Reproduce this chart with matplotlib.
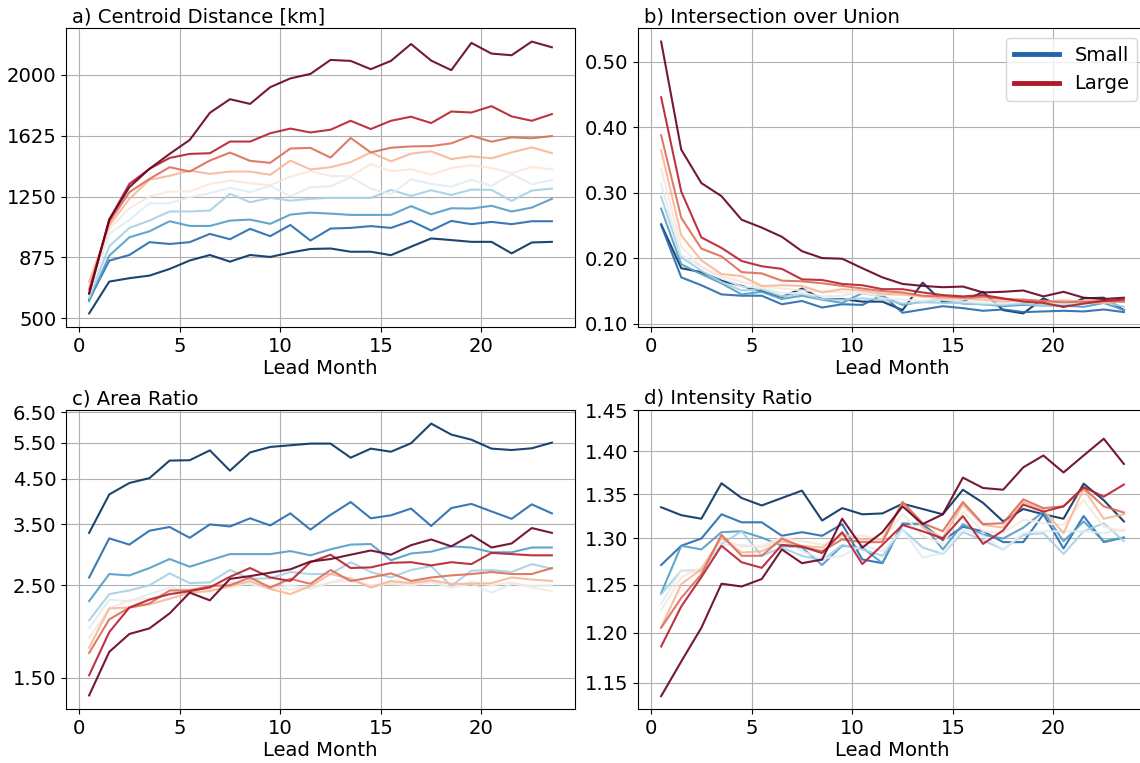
import numpy as np
import matplotlib
matplotlib.use("Agg")
import matplotlib.pyplot as plt
from matplotlib.lines import Line2D
from matplotlib.ticker import FixedLocator, FormatStrFormatter, NullLocator

plt.rcParams['font.family'] = ['DejaVu Sans']
FS = 14.1

lead_month = np.arange(24) + 0.5

# ten size classes, smallest (blue) to largest (red)
centroid_distance = [
    [530, 726, 747, 763, 804, 856, 890, 849, 890, 878, 905, 927, 930, 910, 910, 889, 941, 992, 982, 971, 971, 900, 967, 971],
    [615, 855, 890, 969, 958, 969, 1020, 987, 1051, 1006, 1075, 979, 1053, 1057, 1068, 1057, 1100, 1041, 1100, 1080, 1094, 1080, 1098, 1098],
    [605, 886, 999, 1036, 1098, 1069, 1069, 1102, 1108, 1082, 1139, 1151, 1145, 1137, 1137, 1137, 1191, 1141, 1178, 1176, 1193, 1158, 1182, 1236],
    [625, 944, 1057, 1102, 1158, 1158, 1164, 1267, 1215, 1242, 1225, 1236, 1242, 1242, 1242, 1291, 1254, 1289, 1260, 1293, 1291, 1223, 1287, 1299],
    [640, 1020, 1106, 1209, 1209, 1246, 1271, 1304, 1277, 1316, 1252, 1308, 1313, 1369, 1299, 1264, 1356, 1328, 1311, 1354, 1315, 1389, 1326, 1352],
    [660, 1051, 1178, 1250, 1281, 1281, 1328, 1349, 1332, 1320, 1373, 1406, 1377, 1375, 1451, 1406, 1418, 1385, 1426, 1443, 1426, 1395, 1432, 1418],
    [725, 1071, 1236, 1353, 1378, 1410, 1390, 1404, 1404, 1384, 1472, 1417, 1431, 1462, 1522, 1467, 1514, 1529, 1481, 1498, 1486, 1522, 1553, 1518],
    [680, 1092, 1277, 1359, 1431, 1404, 1472, 1521, 1470, 1458, 1546, 1550, 1490, 1611, 1522, 1551, 1559, 1561, 1578, 1625, 1588, 1615, 1609, 1623],
    [650, 1108, 1328, 1421, 1488, 1513, 1517, 1589, 1589, 1640, 1669, 1645, 1662, 1717, 1666, 1717, 1742, 1703, 1774, 1768, 1807, 1744, 1717, 1758],
    [655, 1108, 1308, 1421, 1513, 1599, 1766, 1850, 1821, 1924, 1978, 2006, 2092, 2086, 2035, 2086, 2190, 2088, 2029, 2197, 2131, 2121, 2205, 2170],
]

intersection_over_union = [
    [0.252, 0.185, 0.179, 0.166, 0.158, 0.150, 0.141, 0.154, 0.138, 0.138, 0.134, 0.134, 0.121, 0.163, 0.133, 0.134, 0.149, 0.121, 0.116, 0.139, 0.126, 0.139, 0.140, 0.121],
    [0.251, 0.171, 0.159, 0.145, 0.143, 0.143, 0.130, 0.135, 0.125, 0.130, 0.129, 0.144, 0.117, 0.122, 0.127, 0.124, 0.120, 0.122, 0.118, 0.119, 0.120, 0.119, 0.122, 0.118],
    [0.276, 0.191, 0.176, 0.162, 0.145, 0.149, 0.138, 0.143, 0.137, 0.132, 0.147, 0.142, 0.129, 0.134, 0.137, 0.131, 0.130, 0.127, 0.129, 0.128, 0.128, 0.126, 0.132, 0.121],
    [0.294, 0.202, 0.181, 0.164, 0.151, 0.153, 0.142, 0.146, 0.138, 0.137, 0.139, 0.137, 0.131, 0.133, 0.132, 0.132, 0.130, 0.129, 0.131, 0.128, 0.130, 0.131, 0.134, 0.126],
    [0.314, 0.205, 0.187, 0.170, 0.157, 0.155, 0.147, 0.147, 0.142, 0.143, 0.149, 0.139, 0.137, 0.135, 0.137, 0.134, 0.132, 0.131, 0.134, 0.132, 0.131, 0.134, 0.138, 0.134],
    [0.337, 0.218, 0.187, 0.173, 0.164, 0.157, 0.154, 0.151, 0.150, 0.148, 0.147, 0.144, 0.144, 0.141, 0.139, 0.138, 0.136, 0.136, 0.135, 0.134, 0.134, 0.135, 0.137, 0.136],
    [0.365, 0.235, 0.197, 0.176, 0.173, 0.158, 0.159, 0.158, 0.148, 0.153, 0.151, 0.146, 0.145, 0.142, 0.139, 0.139, 0.137, 0.134, 0.137, 0.134, 0.136, 0.134, 0.132, 0.134],
    [0.388, 0.262, 0.215, 0.203, 0.179, 0.177, 0.166, 0.165, 0.162, 0.158, 0.154, 0.150, 0.148, 0.143, 0.142, 0.140, 0.141, 0.138, 0.137, 0.135, 0.133, 0.134, 0.135, 0.134],
    [0.446, 0.302, 0.232, 0.216, 0.196, 0.188, 0.184, 0.168, 0.167, 0.161, 0.159, 0.153, 0.153, 0.148, 0.144, 0.142, 0.144, 0.139, 0.134, 0.132, 0.126, 0.131, 0.135, 0.137],
    [0.531, 0.366, 0.315, 0.295, 0.259, 0.247, 0.233, 0.211, 0.2005, 0.1995, 0.185, 0.171, 0.161, 0.158, 0.156, 0.157, 0.148, 0.149, 0.151, 0.142, 0.149, 0.140, 0.138, 0.140],
]

area_ratio = [
    [3.34, 4.13, 4.40, 4.52, 4.98, 4.99, 5.27, 4.71, 5.21, 5.37, 5.42, 5.47, 5.47, 5.06, 5.32, 5.23, 5.48, 6.11, 5.75, 5.59, 5.32, 5.28, 5.33, 5.50],
    [2.61, 3.24, 3.13, 3.38, 3.45, 3.25, 3.50, 3.46, 3.62, 3.48, 3.72, 3.40, 3.69, 3.96, 3.62, 3.68, 3.82, 3.47, 3.83, 3.92, 3.76, 3.61, 3.91, 3.72],
    [2.29, 2.66, 2.64, 2.75, 2.89, 2.77, 2.87, 2.97, 2.97, 2.97, 3.02, 2.95, 3.05, 3.13, 3.14, 2.87, 2.98, 3.01, 3.10, 3.08, 3.00, 3.00, 3.08, 3.08],
    [2.06, 2.38, 2.43, 2.50, 2.67, 2.53, 2.54, 2.72, 2.59, 2.60, 2.69, 2.66, 2.66, 2.84, 2.69, 2.61, 2.72, 2.78, 2.49, 2.71, 2.72, 2.69, 2.81, 2.74],
    [1.97, 2.31, 2.29, 2.38, 2.47, 2.43, 2.47, 2.54, 2.52, 2.45, 2.50, 2.45, 2.54, 2.61, 2.47, 2.54, 2.50, 2.54, 2.47, 2.52, 2.40, 2.52, 2.49, 2.50],
    [1.87, 2.20, 2.30, 2.32, 2.41, 2.45, 2.44, 2.47, 2.54, 2.49, 2.44, 2.47, 2.54, 2.56, 2.50, 2.52, 2.50, 2.56, 2.47, 2.55, 2.50, 2.54, 2.47, 2.42],
    [1.77, 2.20, 2.21, 2.25, 2.32, 2.40, 2.42, 2.49, 2.56, 2.45, 2.38, 2.49, 2.66, 2.59, 2.47, 2.56, 2.53, 2.57, 2.52, 2.52, 2.53, 2.61, 2.58, 2.56],
    [1.72, 2.07, 2.21, 2.26, 2.43, 2.43, 2.49, 2.50, 2.61, 2.47, 2.59, 2.52, 2.72, 2.56, 2.61, 2.67, 2.56, 2.61, 2.64, 2.66, 2.69, 2.66, 2.66, 2.75],
    [1.52, 1.93, 2.21, 2.31, 2.38, 2.42, 2.47, 2.62, 2.75, 2.61, 2.56, 2.84, 2.96, 2.75, 2.76, 2.83, 2.84, 2.79, 2.84, 2.81, 2.99, 2.97, 2.95, 2.95],
    [1.36, 1.73, 1.91, 1.97, 2.14, 2.40, 2.30, 2.59, 2.63, 2.68, 2.73, 2.85, 2.89, 2.96, 3.03, 2.96, 3.12, 3.22, 3.10, 3.30, 3.08, 3.15, 3.43, 3.34],
]

intensity_ratio = [
    [1.335, 1.326, 1.322, 1.3625, 1.3455, 1.337, 1.3455, 1.354, 1.320, 1.334, 1.327, 1.328, 1.339, 1.333, 1.327, 1.355, 1.340, 1.319, 1.333, 1.327, 1.322, 1.362, 1.343, 1.319],
    [1.271, 1.292, 1.300, 1.327, 1.318, 1.318, 1.303, 1.307, 1.303, 1.316, 1.277, 1.273, 1.316, 1.316, 1.298, 1.313, 1.308, 1.296, 1.296, 1.327, 1.289, 1.325, 1.296, 1.301],
    [1.241, 1.292, 1.288, 1.307, 1.308, 1.301, 1.292, 1.290, 1.271, 1.292, 1.290, 1.273, 1.317, 1.316, 1.288, 1.316, 1.304, 1.300, 1.312, 1.330, 1.297, 1.319, 1.297, 1.301],
    [1.240, 1.265, 1.265, 1.294, 1.308, 1.281, 1.290, 1.281, 1.276, 1.293, 1.288, 1.281, 1.310, 1.290, 1.283, 1.307, 1.298, 1.288, 1.304, 1.306, 1.283, 1.308, 1.317, 1.297],
    [1.230, 1.265, 1.263, 1.293, 1.293, 1.290, 1.299, 1.286, 1.278, 1.281, 1.293, 1.286, 1.310, 1.279, 1.284, 1.310, 1.303, 1.288, 1.306, 1.308, 1.308, 1.308, 1.306, 1.310],
    [1.223, 1.258, 1.268, 1.299, 1.291, 1.292, 1.301, 1.297, 1.293, 1.303, 1.303, 1.299, 1.327, 1.303, 1.294, 1.330, 1.308, 1.306, 1.321, 1.317, 1.315, 1.343, 1.313, 1.308],
    [1.2055, 1.2505, 1.2665, 1.301, 1.2845, 1.286, 1.297, 1.292, 1.290, 1.3045, 1.299, 1.299, 1.341, 1.312, 1.301, 1.338, 1.315, 1.312, 1.341, 1.332, 1.306, 1.356, 1.322, 1.327],
    [1.205, 1.236, 1.261, 1.304, 1.281, 1.281, 1.300, 1.291, 1.286, 1.299, 1.296, 1.296, 1.341, 1.317, 1.308, 1.341, 1.316, 1.317, 1.344, 1.334, 1.336, 1.357, 1.336, 1.329],
    [1.186, 1.227, 1.258, 1.292, 1.274, 1.268, 1.293, 1.291, 1.284, 1.307, 1.272, 1.293, 1.315, 1.308, 1.300, 1.325, 1.294, 1.309, 1.338, 1.330, 1.336, 1.358, 1.347, 1.361],
    [1.137, 1.171, 1.205, 1.251, 1.248, 1.256, 1.288, 1.273, 1.277, 1.322, 1.290, 1.307, 1.336, 1.316, 1.327, 1.369, 1.357, 1.355, 1.381, 1.395, 1.375, 1.395, 1.415, 1.385],
]

titles = ["a) Centroid Distance [km]", "b) Intersection over Union",
          "c) Area Ratio", "d) Intensity Ratio"]
yticks_a = [500, 875, 1250, 1625, 2000]
yticks_b = [0.10, 0.20, 0.30, 0.40, 0.50]
yticks_c = [1.5, 2.5, 3.5, 4.5, 5.5, 6.5]
yticks_d = [1.15, 1.20, 1.25, 1.30, 1.35, 1.40, 1.45]
legend_labels = ["Small", "Large"]

colors = plt.cm.RdBu_r(np.linspace(0, 1, 10))

W, H = 1140, 763
fig = plt.figure(figsize=(W / 100, H / 100), dpi=100)


def px_axes(left, top, right, bottom):
    return fig.add_axes([left / W, 1 - bottom / H, (right - left) / W, (bottom - top) / H])


ax_a = px_axes(66, 28, 575, 327)
ax_b = px_axes(638, 28, 1147, 327)
ax_c = px_axes(66, 410, 575, 709)
ax_d = px_axes(638, 410, 1147, 709)

panels = [
    (ax_a, centroid_distance, titles[0], yticks_a, "linear", "%d"),
    (ax_b, intersection_over_union, titles[1], yticks_b, "linear", "%.2f"),
    (ax_c, area_ratio, titles[2], yticks_c, "log", "%.2f"),
    (ax_d, intensity_ratio, titles[3], yticks_d, "log", "%.2f"),
]

for ax, series, title, yt, scale, fmt in panels:
    for vals, c in zip(series, colors):
        ax.plot(lead_month, vals, color=c, lw=1.5, alpha=0.9)
    ax.set_yscale(scale)
    ax.yaxis.set_major_locator(FixedLocator(yt))
    ax.yaxis.set_minor_locator(NullLocator())
    ax.yaxis.set_major_formatter(FormatStrFormatter(fmt))
    ax.set_yticks(yt)
    ax.set_xticks([0, 5, 10, 15, 20])
    ax.grid(True, color="#b0b0b0", lw=0.8)
    ax.set_axisbelow(True)
    ax.tick_params(labelsize=FS)
    ax.set_title(title, loc="left", fontsize=FS, pad=4, x=0.012)
    ax.set_xlabel("Lead Month", fontsize=FS, labelpad=2)

handles = [Line2D([], [], color="#2166ac", lw=3.5),
           Line2D([], [], color="#b2182b", lw=3.5)]
ax_b.legend(handles, legend_labels, loc="upper right", fontsize=FS,
            handlelength=2.3)

fig.savefig("out.png", dpi=100)
